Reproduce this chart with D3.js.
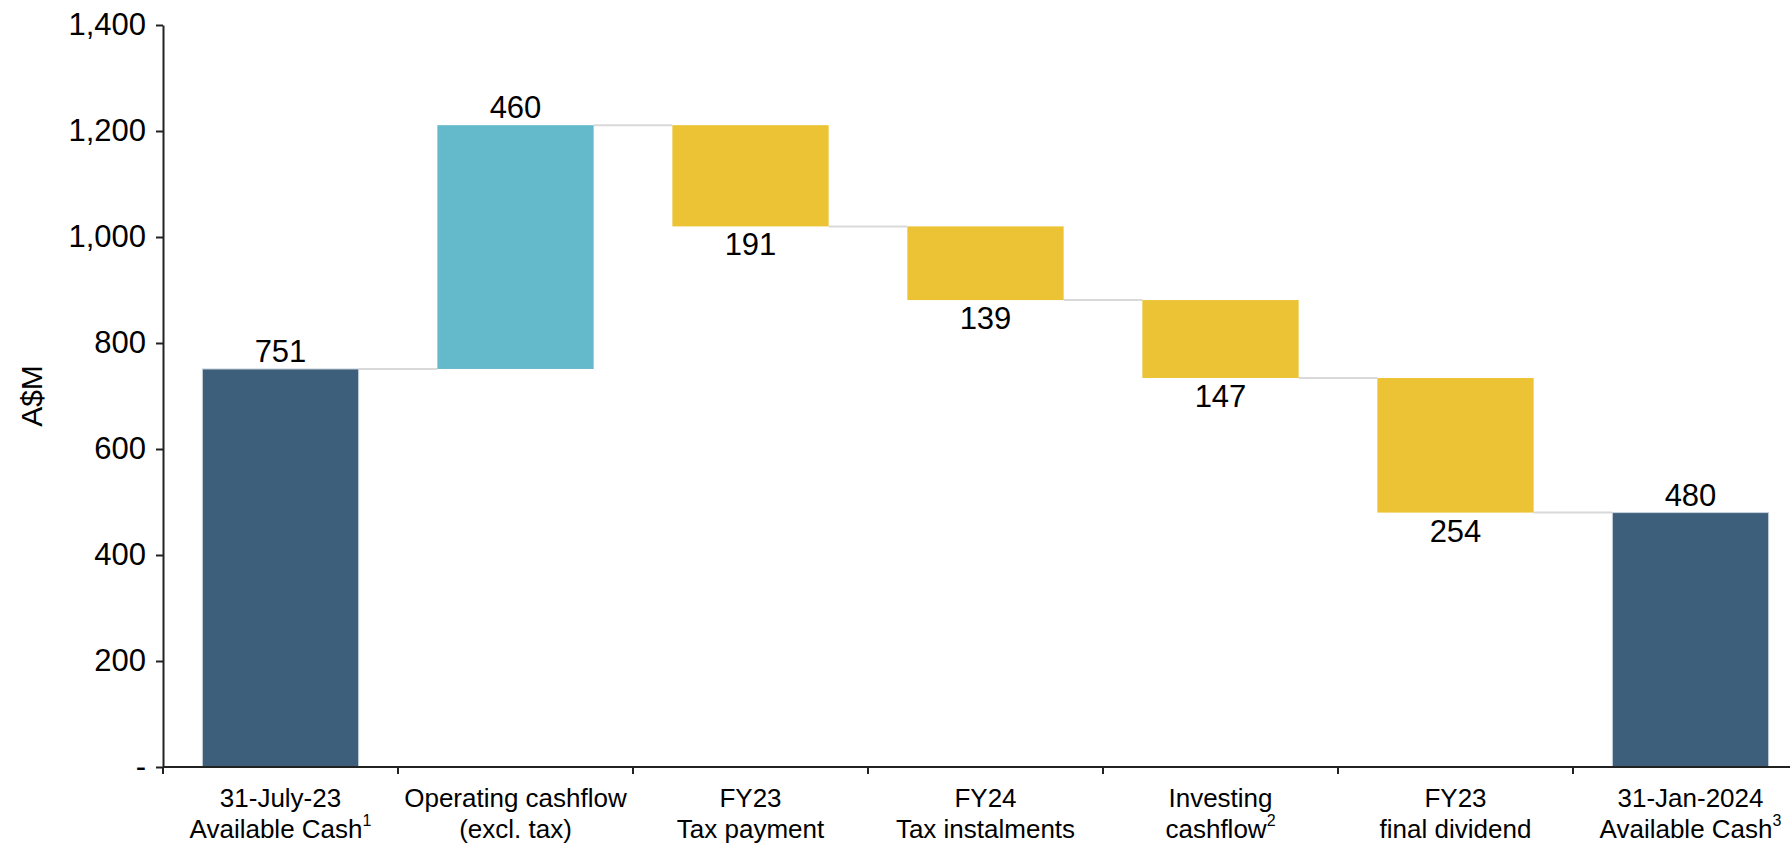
<!DOCTYPE html>
<html>
<head>
<meta charset="utf-8">
<script src="https://cdn.jsdelivr.net/npm/d3@7"></script>
<style>
  body { margin: 0; background: #fff; }
  text { font-family: "Liberation Sans", Arial, Helvetica, sans-serif; fill: #000; }
</style>
</head>
<body>
<div class="chart"></div>
<script>
// waterfall data, A$M
const categories = ["open", "opcf", "tax23", "tax24", "invest", "div", "close"];
const labelLine1 = ["31-July-23", "Operating cashflow", "FY23", "FY24", "Investing", "FY23", "31-Jan-2024"];
const labelLine2 = ["Available Cash", "(excl. tax)", "Tax payment", "Tax instalments", "cashflow", "final dividend", "Available Cash"];
const labelNote  = ["1", "", "", "", "2", "", "3"];
const kinds      = ["total", "up", "down", "down", "down", "down", "total"];
const values     = [751, 460, -191, -139, -147, -254, 480];
const yTicks     = [0, 200, 400, 600, 800, 1000, 1200, 1400];

const colors = {total: "#3d5f7b", up: "#64b9ca", down: "#ebc334"};

// running totals -> bar start/end
let run = 0;
const data = categories.map((c, i) => {
  let y0, y1;
  if (kinds[i] === "total") { y0 = 0; y1 = values[i]; run = values[i]; }
  else { y0 = run; y1 = run + values[i]; run = y1; }
  return {key: c, kind: kinds[i], value: values[i], y0: y0, y1: y1, level: run};
});

const width = 1790, height = 844;
const margin = {left: 163, top: 25, bottom: 767};
const step = 235;

const svg = d3.select(".chart").append("svg")
  .attr("width", width)
  .attr("height", height);

const x = d3.scaleBand()
  .domain(categories)
  .range([margin.left, margin.left + step * categories.length])
  .paddingInner(0.335)
  .paddingOuter(0.1675);

const y = d3.scaleLinear()
  .domain([0, 1400])
  .range([margin.bottom, margin.top]);

// y axis
svg.append("g")
  .attr("transform", `translate(${margin.left},0)`)
  .call(d3.axisLeft(y)
    .tickValues(yTicks)
    .tickSize(7)
    .tickSizeOuter(0)
    .tickPadding(10)
    .tickFormat(d => d === 0 ? "-" : d3.format(",")(d)))
  .call(g => g.select(".domain").attr("stroke", "#222").attr("stroke-width", 2))
  .call(g => g.selectAll(".tick line").attr("stroke", "#222").attr("stroke-width", 2))
  .call(g => g.selectAll(".tick text")
    .attr("font-size", 31)
    .attr("fill", "#000")
    .attr("font-family", "Liberation Sans, Arial, sans-serif"));

svg.append("text")
  .attr("transform", "translate(42,396) rotate(-90)")
  .attr("text-anchor", "middle")
  .attr("font-size", 30)
  .text("A$M");

// connectors
const gap = (x.step() - x.bandwidth());
svg.append("g")
  .selectAll("line")
  .data(data.slice(0, -1))
  .join("line")
  .attr("x1", d => x(d.key) + x.bandwidth())
  .attr("x2", (d, i) => x(categories[i + 1]))
  .attr("y1", d => y(d.level))
  .attr("y2", d => y(d.level))
  .attr("stroke", "#d9d9d9")
  .attr("stroke-width", 2);

// bars
svg.append("g")
  .selectAll("rect")
  .data(data)
  .join("rect")
  .attr("x", d => x(d.key))
  .attr("width", x.bandwidth())
  .attr("y", d => y(Math.max(d.y0, d.y1)))
  .attr("height", d => Math.abs(y(d.y0) - y(d.y1)))
  .attr("fill", d => colors[d.kind])
  .attr("stroke", d => d.kind === "total" ? "#c8d2dc" : "none")
  .attr("stroke-width", 1);

// value labels
svg.append("g")
  .selectAll("text")
  .data(data)
  .join("text")
  .attr("x", d => x(d.key) + x.bandwidth() / 2)
  .attr("y", d => d.kind === "down" ? y(d.y1) + 29 : y(d.y1) - 7)
  .attr("text-anchor", "middle")
  .attr("font-size", 31)
  .text(d => Math.abs(d.value));

// x axis with ticks at band boundaries
const xAxis = svg.append("g")
  .attr("transform", `translate(0,${margin.bottom})`);

xAxis.append("line")
  .attr("x1", margin.left)
  .attr("x2", x.range()[1])
  .attr("stroke", "#222")
  .attr("stroke-width", 2);

xAxis.selectAll(".bound")
  .data(categories)
  .join("line")
  .attr("class", "bound")
  .attr("x1", d => x(d) - gap / 2)
  .attr("x2", d => x(d) - gap / 2)
  .attr("y1", 0)
  .attr("y2", 7)
  .attr("stroke", "#222")
  .attr("stroke-width", 2);

const lab = xAxis.selectAll(".cat")
  .data(categories)
  .join("text")
  .attr("class", "cat")
  .attr("text-anchor", "middle")
  .attr("font-size", 26);

lab.append("tspan")
  .attr("x", d => x(d) + x.bandwidth() / 2)
  .attr("y", 40)
  .text((d, i) => labelLine1[i]);

lab.append("tspan")
  .attr("x", d => x(d) + x.bandwidth() / 2)
  .attr("y", 71)
  .text((d, i) => labelLine2[i]);

lab.filter((d, i) => labelNote[i] !== "")
  .append("tspan")
  .attr("dy", -12)
  .attr("font-size", 16)
  .text(d => labelNote[categories.indexOf(d)]);
</script>
</body>
</html>
